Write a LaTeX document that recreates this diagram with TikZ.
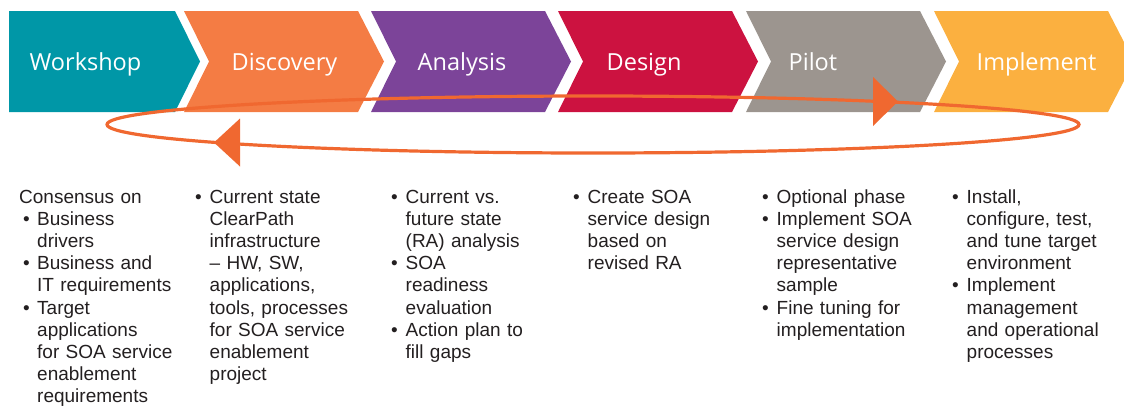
\documentclass[tikz,border=0pt]{standalone}
\usepackage{fontspec}
\setmainfont{Liberation Sans}
\newfontfamily\headfont{Open Sans}
\definecolor{cteal}{RGB}{0,151,167}
\definecolor{corange}{RGB}{244,124,68}
\definecolor{cpurple}{RGB}{124,68,153}
\definecolor{ccrimson}{RGB}{204,18,64}
\definecolor{cgrey}{RGB}{156,149,143}
\definecolor{camber}{RGB}{251,176,64}
\definecolor{cring}{RGB}{240,104,48}
\definecolor{ctext}{RGB}{35,31,32}
\newcommand\bi{\makebox[14.5pt][l]{\textbullet}}
\newcommand\ci{\hspace*{14.5pt}}
\newcommand\bo{\hspace*{4pt}\makebox[14pt][l]{\textbullet}}
\newcommand\co{\hspace*{18pt}}
\begin{document}
\begin{tikzpicture}[x=1pt,y=-1pt,
  head/.style={anchor=base west,inner sep=0pt,text=white,font=\headfont\fontsize{23.5}{28}\selectfont},
  body/.style={anchor=base west,inner sep=0pt,text=ctext,text width=175pt,align=left,font=\fontsize{19}{22.2}\selectfont},
  ring/.style={draw=cring,line width=3.2pt},
  ringhead/.style={fill=cring}]
\useasboundingbox (0,0) rectangle (1124,405);
\begin{scope}
\clip (0,0) rectangle (1124,405);
% chevrons
\fill[cteal] (9,11) -- (175,11) -- (200,61.5) -- (175,112) -- (9,112) -- cycle;
\foreach \x/\c in {184/corange,371/cpurple,558/ccrimson,746/cgrey,934/camber}{
  \fill[\c] (\x,11) -- (\x+174,11) -- (\x+200,61.5) -- (\x+174,112) -- (\x,112) -- (\x+25,61.5) -- cycle;
}
\end{scope}
% labels
\node[head] (workshop) at (29.5,70) {Workshop};
\node[head] (discovery) at (231.5,70) {Discovery};
\node[head] (analysis) at (417.5,70) {Analysis};
\node[head] (design) at (606.5,70) {Design};
\node[head] (pilot) at (788.5,70) {Pilot};
\node[head] (implement) at (976.5,70) {Implement};
% cycle ring
\draw[ring] (593,124.5) ellipse [x radius=486, y radius=28.5];
\fill[ringhead] (898,101.5) -- (873,77) -- (873,126) -- cycle;
\fill[ringhead] (214,142.5) -- (240,118.5) -- (240,166.5) -- cycle;
% texts
\node[body] (t1) at (19,203) {Consensus on\\
\bo Business\\ \co drivers\\
\bo Business and\\ \co IT requirements\\
\bo Target\\ \co applications\\ \co for SOA service\\ \co enablement\\ \co requirements};
\node[body] (t2) at (195,203) {\bi Current state\\ \ci ClearPath\\ \ci infrastructure\\ \ci -- HW, SW,\\ \ci applications,\\ \ci tools, processes\\ \ci for SOA service\\ \ci enablement\\ \ci project};
\node[body] (t3) at (391,203) {\bi Current vs.\\ \ci future state\\ \ci (RA) analysis\\
\bi SOA\\ \ci readiness\\ \ci evaluation\\
\bi Action plan to\\ \ci fill gaps};
\node[body] (t4) at (573,203) {\bi Create SOA\\ \ci service design\\ \ci based on\\ \ci revised RA};
\node[body] (t5) at (762,203) {\bi Optional phase\\
\bi Implement SOA\\ \ci service design\\ \ci representative\\ \ci sample\\
\bi Fine tuning for\\ \ci implementation};
\node[body] (t6) at (952,203) {\bi Install,\\ \ci configure, test,\\ \ci and tune target\\ \ci environment\\
\bi Implement\\ \ci management\\ \ci and operational\\ \ci processes};
\end{tikzpicture}
\end{document}
